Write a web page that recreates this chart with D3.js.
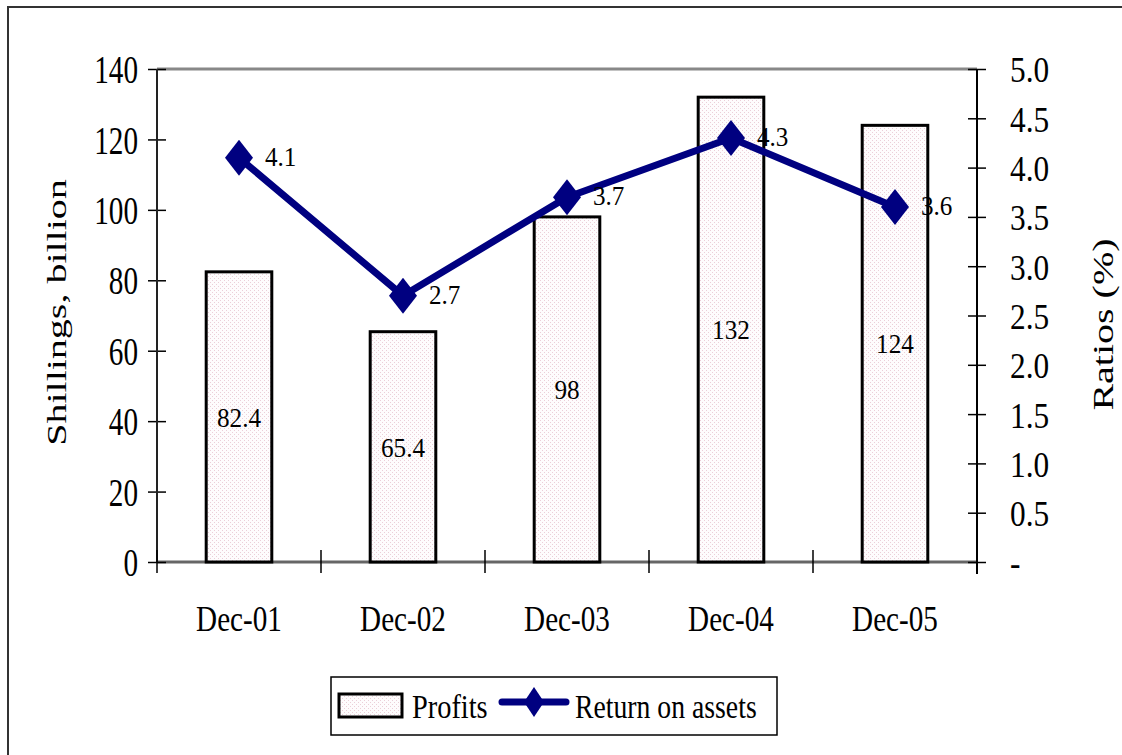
<!DOCTYPE html>
<html>
<head>
<meta charset="utf-8">
<script src="https://cdn.jsdelivr.net/npm/d3@7"></script>
<style>
  html, body { margin: 0; padding: 0; background: #fff; }
  svg { display: block; font-family: "Liberation Serif", "Times New Roman", serif; }
</style>
</head>
<body>
<svg id="chart" width="1122" height="755"></svg>
<script>
// Bank profits (bars, left axis) and return on assets (line, right axis)
const categories = ["Dec-01", "Dec-02", "Dec-03", "Dec-04", "Dec-05"];
const profits = [82.4, 65.4, 98, 132, 124];
const returnOnAssets = [4.1, 2.7, 3.7, 4.3, 3.6];
const leftTicks = [0, 20, 40, 60, 80, 100, 120, 140];
const rightTicks = [0, 0.5, 1.0, 1.5, 2.0, 2.5, 3.0, 3.5, 4.0, 4.5, 5.0];
const leftTitle = "Shillings, billion";
const rightTitle = "Ratios (%)";
const seriesNames = ["Profits", "Return on assets"];

const svg = d3.select("#chart");
const plot = { left: 157, right: 977, top: 69, bottom: 562 };
const navy = "#000080";

// dotted pink fill used by the bars
const defs = svg.append("defs");
const pat = defs.append("pattern").attr("id", "dots")
  .attr("patternUnits", "userSpaceOnUse").attr("width", 4).attr("height", 4);
pat.append("rect").attr("width", 4).attr("height", 4).attr("fill", "#fefcfd");
pat.append("rect").attr("x", 0).attr("y", 0).attr("width", 1).attr("height", 1).attr("fill", "#ebcfd8");
pat.append("rect").attr("x", 2).attr("y", 2).attr("width", 1).attr("height", 1).attr("fill", "#ebcfd8");

// outer chart frame
svg.append("rect").attr("x", 8).attr("y", 7).attr("width", 1140).attr("height", 780)
  .attr("fill", "none").attr("stroke", "#333").attr("stroke-width", 2);

const x = d3.scaleBand().domain(categories)
  .range([plot.left, plot.right]).paddingInner(0.6).paddingOuter(0.3);
const yL = d3.scaleLinear().domain([0, 140]).range([plot.bottom, plot.top]);
const yR = d3.scaleLinear().domain([0, 5]).range([plot.bottom, plot.top]);

// plot area outline (top and bottom in grey)
svg.append("line").attr("x1", plot.left).attr("x2", plot.right)
  .attr("y1", plot.top).attr("y2", plot.top)
  .attr("stroke", "#888").attr("stroke-width", 3);
svg.append("line").attr("x1", plot.left).attr("x2", plot.right)
  .attr("y1", plot.bottom).attr("y2", plot.bottom)
  .attr("stroke", "#666").attr("stroke-width", 3);

// bars
svg.append("g").selectAll("rect").data(profits).join("rect")
  .attr("x", (d, i) => x(categories[i]))
  .attr("y", d => yL(d))
  .attr("width", x.bandwidth())
  .attr("height", d => yL(0) - yL(d))
  .attr("fill", "url(#dots)")
  .attr("stroke", "#000").attr("stroke-width", 3);

// bar value labels
svg.append("g").selectAll("text").data(profits).join("text")
  .attr("transform", (d, i) => `translate(${x(categories[i]) + x.bandwidth() / 2},${(yL(d) + yL(0)) / 2}) scale(0.9,1)`)
  .attr("text-anchor", "middle").attr("dy", "0.35em")
  .attr("font-size", 28).attr("fill", "#000")
  .text(d => d);

// left axis
const gL = svg.append("g").attr("transform", `translate(${plot.left},0)`)
  .call(d3.axisLeft(yL).tickValues(leftTicks).tickSize(9).tickFormat(d3.format("d")));
gL.select(".domain").remove();
gL.selectAll(".tick line").attr("x1", 9).attr("stroke", "#000").attr("stroke-width", 1.5);
gL.selectAll(".tick text")
  .attr("x", null).attr("dy", "0.34em")
  .attr("transform", "translate(-19,0) scale(0.73,1)")
  .attr("font-size", 40).attr("font-family", "Liberation Serif").attr("fill", "#000");
gL.append("line").attr("y1", plot.top).attr("y2", plot.bottom)
  .attr("stroke", "#222").attr("stroke-width", 2);

// right axis
const gR = svg.append("g").attr("transform", `translate(${plot.right},0)`)
  .call(d3.axisRight(yR).tickValues(rightTicks).tickSize(9)
    .tickFormat(d => d === 0 ? "-" : d3.format(".1f")(d)));
gR.select(".domain").remove();
gR.selectAll(".tick line").attr("x1", -9).attr("stroke", "#000").attr("stroke-width", 1.5);
gR.selectAll(".tick text")
  .attr("x", null).attr("dy", "0.36em")
  .attr("transform", "translate(33,0) scale(0.87,1)")
  .attr("font-size", 36).attr("font-family", "Liberation Serif").attr("fill", "#000");
gR.append("line").attr("y1", plot.top).attr("y2", plot.bottom + 12)
  .attr("stroke", "#000").attr("stroke-width", 2);

// category axis: labels at band centres, ticks on band boundaries
const gB = svg.append("g").attr("transform", `translate(0,${plot.bottom})`)
  .call(d3.axisBottom(x).tickSize(0));
gB.select(".domain").remove();
gB.selectAll(".tick text")
  .attr("y", null).attr("dy", null)
  .attr("transform", "translate(0,69) scale(0.81,1)")
  .attr("font-size", 36).attr("font-family", "Liberation Serif").attr("fill", "#000");
const bounds = d3.range(categories.length + 1).map(i => plot.left + i * x.step());
svg.append("g").selectAll("line").data(bounds).join("line")
  .attr("x1", d => d).attr("x2", d => d)
  .attr("y1", plot.bottom - 12).attr("y2", plot.bottom + 11)
  .attr("stroke", "#000").attr("stroke-width", 1.5);

// return on assets line
const cx = (d, i) => x(categories[i]) + x.bandwidth() / 2;
const line = d3.line().x(cx).y(d => yR(d));
svg.append("path").datum(returnOnAssets)
  .attr("d", line).attr("fill", "none")
  .attr("stroke", navy).attr("stroke-width", 7).attr("stroke-linejoin", "round");

const diamond = (hw, hh) => `M0,${-hh}L${hw},0L0,${hh}L${-hw},0Z`;
svg.append("g").selectAll("path").data(returnOnAssets).join("path")
  .attr("transform", (d, i) => `translate(${cx(d, i)},${yR(d)})`)
  .attr("d", diamond(14, 18)).attr("fill", navy);

svg.append("g").selectAll("text").data(returnOnAssets).join("text")
  .attr("transform", (d, i) => `translate(${cx(d, i) + 26},${yR(d)}) scale(0.93,1)`)
  .attr("dy", "0.3em").attr("font-size", 27).attr("fill", "#000")
  .text(d => d3.format(".1f")(d));

// axis titles
svg.append("text")
  .attr("transform", `translate(66,${(plot.top + plot.bottom) / 2 - 3}) rotate(-90) scale(1,0.7)`)
  .attr("text-anchor", "middle").attr("font-size", 40).attr("fill", "#000")
  .text(leftTitle);
svg.append("text")
  .attr("transform", `translate(1113,${(plot.top + plot.bottom) / 2 + 9}) rotate(-90) scale(1,0.75)`)
  .attr("text-anchor", "middle").attr("font-size", 40).attr("fill", "#000")
  .text(rightTitle);

// legend
const lg = svg.append("g");
lg.append("rect").attr("x", 331).attr("y", 677).attr("width", 446).attr("height", 58)
  .attr("fill", "#fff").attr("stroke", "#000").attr("stroke-width", 1.5);
lg.append("rect").attr("x", 339).attr("y", 694).attr("width", 63).attr("height", 23)
  .attr("fill", "url(#dots)").attr("stroke", "#000").attr("stroke-width", 3);
lg.append("text").attr("transform", "translate(412,718) scale(0.86,1)")
  .attr("font-size", 33).attr("fill", "#000").text(seriesNames[0]);
lg.append("line").attr("x1", 502).attr("x2", 566).attr("y1", 702).attr("y2", 702)
  .attr("stroke", navy).attr("stroke-width", 7).attr("stroke-linecap", "round");
lg.append("path").attr("transform", "translate(534,702)").attr("d", diamond(10, 15)).attr("fill", navy);
lg.append("text").attr("transform", "translate(575,718) scale(0.84,1)")
  .attr("font-size", 33).attr("fill", "#000").text(seriesNames[1]);
</script>
</body>
</html>
